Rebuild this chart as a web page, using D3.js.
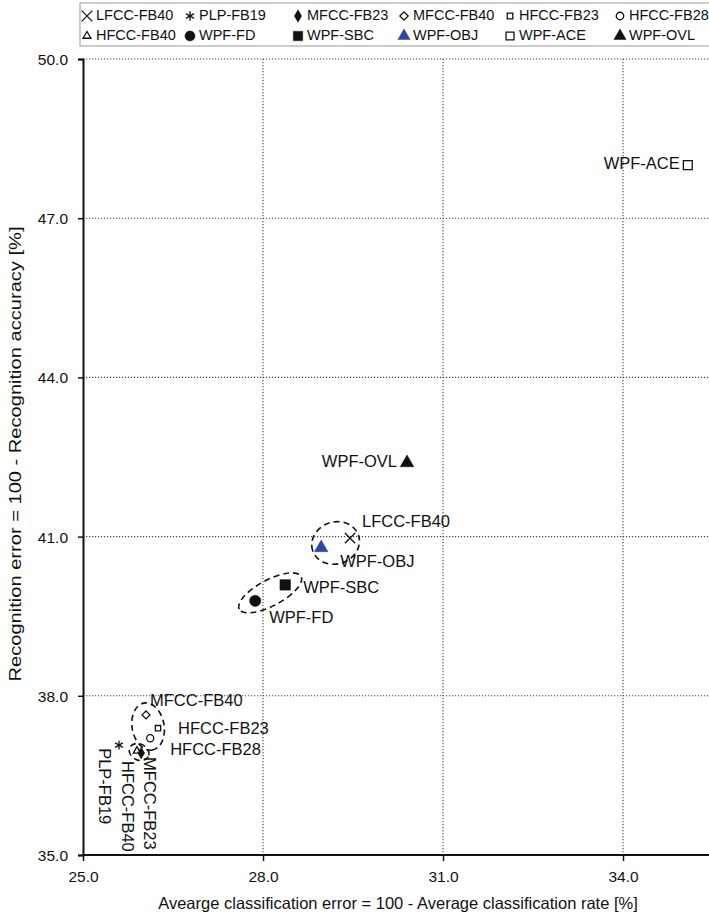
<!DOCTYPE html>
<html><head><meta charset="utf-8">
<script src="https://cdn.jsdelivr.net/npm/d3@7"></script>
<style>
html,body{margin:0;padding:0;background:#fff;}
svg{display:block;font-family:"Liberation Sans",Arial,sans-serif;}
</style></head><body>
<svg id="chart" width="709" height="912"></svg>
<script>
// Feature sets and their error rates (%)
const features = ["LFCC-FB40","PLP-FB19","MFCC-FB23","MFCC-FB40","HFCC-FB23","HFCC-FB28",
                  "HFCC-FB40","WPF-FD","WPF-SBC","WPF-OBJ","WPF-ACE","WPF-OVL"];
const classError = [29.45, 25.6, 25.97, 26.05, 26.25, 26.12, 25.9, 27.87, 28.37, 28.97, 35.08, 30.4];
const recogError = [40.97, 37.07, 36.92, 37.64, 37.39, 37.2, 36.96, 39.79, 40.09, 40.79, 48.0, 42.39];
const xTicks = [25, 28, 31, 34];
const yTicks = [35, 38, 41, 44, 47, 50];
// feature groups circled with dashed outlines
const groups = [["LFCC-FB40","WPF-OBJ"], ["WPF-SBC","WPF-FD"], ["MFCC-FB40","HFCC-FB28"], ["HFCC-FB40","MFCC-FB23"]];

const points = features.map((f, i) => ({name: f, x: classError[i], y: recogError[i]}));

// marker style per feature
const markerStyle = {
  "LFCC-FB40": {type: d3.symbolX, size: 70, filled: false},
  "PLP-FB19":  {type: d3.symbolAsterisk, size: 55, filled: false},
  "MFCC-FB23": {type: d3.symbolDiamond, size: 40, filled: true},
  "MFCC-FB40": {type: d3.symbolDiamond2, size: 40, filled: false},
  "HFCC-FB23": {type: d3.symbolSquare2, size: 36, filled: false},
  "HFCC-FB28": {type: d3.symbolCircle, size: 40, filled: false},
  "HFCC-FB40": {type: d3.symbolTriangle2, size: 40, filled: false},
  "WPF-FD":    {type: d3.symbolCircle, size: 100, filled: true},
  "WPF-SBC":   {type: d3.symbolSquare, size: 110, filled: true},
  "WPF-OBJ":   {type: d3.symbolTriangle, size: 80, filled: true, color: "#2c45a6"},
  "WPF-ACE":   {type: d3.symbolSquare2, size: 100, filled: false},
  "WPF-OVL":   {type: d3.symbolTriangle, size: 80, filled: true}
};
// label placement (pixel offsets from the marker)
const labelPos = {
  "LFCC-FB40": {dx: 12, dy: -16, anchor: "start"},
  "WPF-OBJ":   {dx: 19, dy: 15, anchor: "start"},
  "WPF-SBC":   {dx: 18, dy: 4, anchor: "start"},
  "WPF-FD":    {dx: 14, dy: 18, anchor: "start"},
  "WPF-OVL":   {dx: -10, dy: 0, anchor: "end"},
  "WPF-ACE":   {dx: -8, dy: 0, anchor: "end"},
  "MFCC-FB40": {dx: 4, dy: -13, anchor: "start"},
  "HFCC-FB23": {dx: 20, dy: 1, anchor: "start"},
  "HFCC-FB28": {dx: 20, dy: 12, anchor: "start"},
  "PLP-FB19":  {dx: -16, dy: 3, anchor: "start", rotate: 90},
  "HFCC-FB40": {dx: -11, dy: 10, anchor: "start", rotate: 90},
  "MFCC-FB23": {dx: 7, dy: 4, anchor: "start", rotate: 90}
};

const svg = d3.select("#chart");
const x = d3.scaleLinear().domain([25, 36]).range([83, 743]);
const y = d3.scaleLinear().domain([35, 50]).range([855, 59]);
const ink = "#111";

// dotted grid
const grid = svg.append("g").attr("stroke", "#444").attr("stroke-width", 1.1).attr("stroke-dasharray", "1.2,1.8");
grid.selectAll("line.h").data(yTicks.filter(d => d > 35)).join("line")
  .attr("x1", x(25)).attr("x2", 709).attr("y1", d => y(d)).attr("y2", d => y(d));
grid.selectAll("line.v").data(xTicks.filter(d => d > 25)).join("line")
  .attr("y1", y(50)).attr("y2", y(35)).attr("x1", d => x(d)).attr("x2", d => x(d));

// axes
const fmt = d3.format(".1f");
const gx = svg.append("g").attr("transform", `translate(0,${y(35)})`)
  .call(d3.axisBottom(x).tickValues(xTicks).tickFormat(fmt).tickSize(6).tickPadding(10));
const gy = svg.append("g").attr("transform", `translate(${x(25)},0)`)
  .call(d3.axisLeft(y).tickValues(yTicks).tickFormat(fmt).tickSize(5).tickPadding(10));
[gx, gy].forEach(g => {
  g.select(".domain").attr("stroke", ink).attr("stroke-width", 2);
  g.selectAll(".tick line").attr("stroke", ink).attr("stroke-width", 1.5);
  g.selectAll(".tick text").attr("fill", ink).style("font-size", "15.5px")
    .style("font-family", "'Liberation Sans', Arial, sans-serif");
});
gx.select(".domain").attr("d", `M${x(25)},0H709`);
gy.selectAll(".tick text").attr("dy", "0.36em");

// axis titles
svg.append("text").attr("x", 398).attr("y", 909).attr("text-anchor", "middle")
  .attr("fill", ink).style("font-size", "16.5px")
  .text("Avearge classification error = 100 - Average classification rate [%]");
svg.append("text").attr("transform", "translate(21,454) rotate(-90)").attr("text-anchor", "middle")
  .attr("fill", ink).style("font-size", "17px")
  .attr("textLength", 455).attr("lengthAdjust", "spacingAndGlyphs")
  .text("Recognition error = 100 - Recognition accuracy [%]");

// dashed group outlines
const groupPad = [{along: 9, cross: 21}, {along: 18, cross: 13}, {along: 12, cross: 16}, {along: 8, cross: 8}];
const byName = Object.fromEntries(points.map(p => [p.name, p]));
const ol = svg.append("g").attr("fill", "none").attr("stroke", ink).attr("stroke-width", 1.6).attr("stroke-dasharray", "6,4");
groups.forEach((g, i) => {
  const a = byName[g[0]], b = byName[g[g.length - 1]];
  const ax = x(a.x), ay = y(a.y), bx = x(b.x), by = y(b.y);
  const cx = (ax + bx) / 2, cy = (ay + by) / 2;
  const ang = Math.atan2(by - ay, bx - ax) * 180 / Math.PI;
  const rx = Math.hypot(bx - ax, by - ay) / 2 + groupPad[i].along;
  ol.append("ellipse").attr("transform", `translate(${cx},${cy}) rotate(${ang})`)
    .attr("rx", rx).attr("ry", groupPad[i].cross);
});

// markers
function drawMarker(sel, name, scale) {
  const s = markerStyle[name];
  const col = s.color || ink;
  sel.append("path").attr("d", d3.symbol(s.type, s.size * (scale || 1))())
    .attr("fill", s.filled ? col : "none")
    .attr("stroke", col).attr("stroke-width", s.filled ? 0.5 : 1.3);
}
points.forEach(p => {
  const g = svg.append("g").attr("transform", `translate(${x(p.x)},${y(p.y)})`);
  drawMarker(g, p.name);
});

// point labels
points.forEach(p => {
  const lp = labelPos[p.name];
  const px = x(p.x) + lp.dx, py = y(p.y) + lp.dy;
  svg.append("text")
    .attr("transform", `translate(${px},${py})` + (lp.rotate ? ` rotate(${lp.rotate})` : ""))
    .attr("text-anchor", lp.anchor).attr("dominant-baseline", "middle")
    .attr("fill", ink).style("font-size", "16.5px").text(p.name);
});

// legend
const legCols = [87, 190, 298, 404, 510, 620];
const legRows = [16, 36];
const legend = svg.append("g");
legend.append("rect").attr("x", 80).attr("y", 3).attr("width", 700).attr("height", 43)
  .attr("fill", "#fff").attr("stroke", "#999").attr("stroke-width", 1);
features.forEach((f, i) => {
  const cx = legCols[i % 6], cy = legRows[Math.floor(i / 6)];
  const g = legend.append("g").attr("transform", `translate(${cx},${cy})`);
  drawMarker(g, f, f.startsWith("WPF") ? 0.8 : 1.1);
  g.append("text").attr("x", 9).attr("dominant-baseline", "middle")
    .attr("fill", ink).style("font-size", "14.5px").text(f);
});
</script>
</body></html>
